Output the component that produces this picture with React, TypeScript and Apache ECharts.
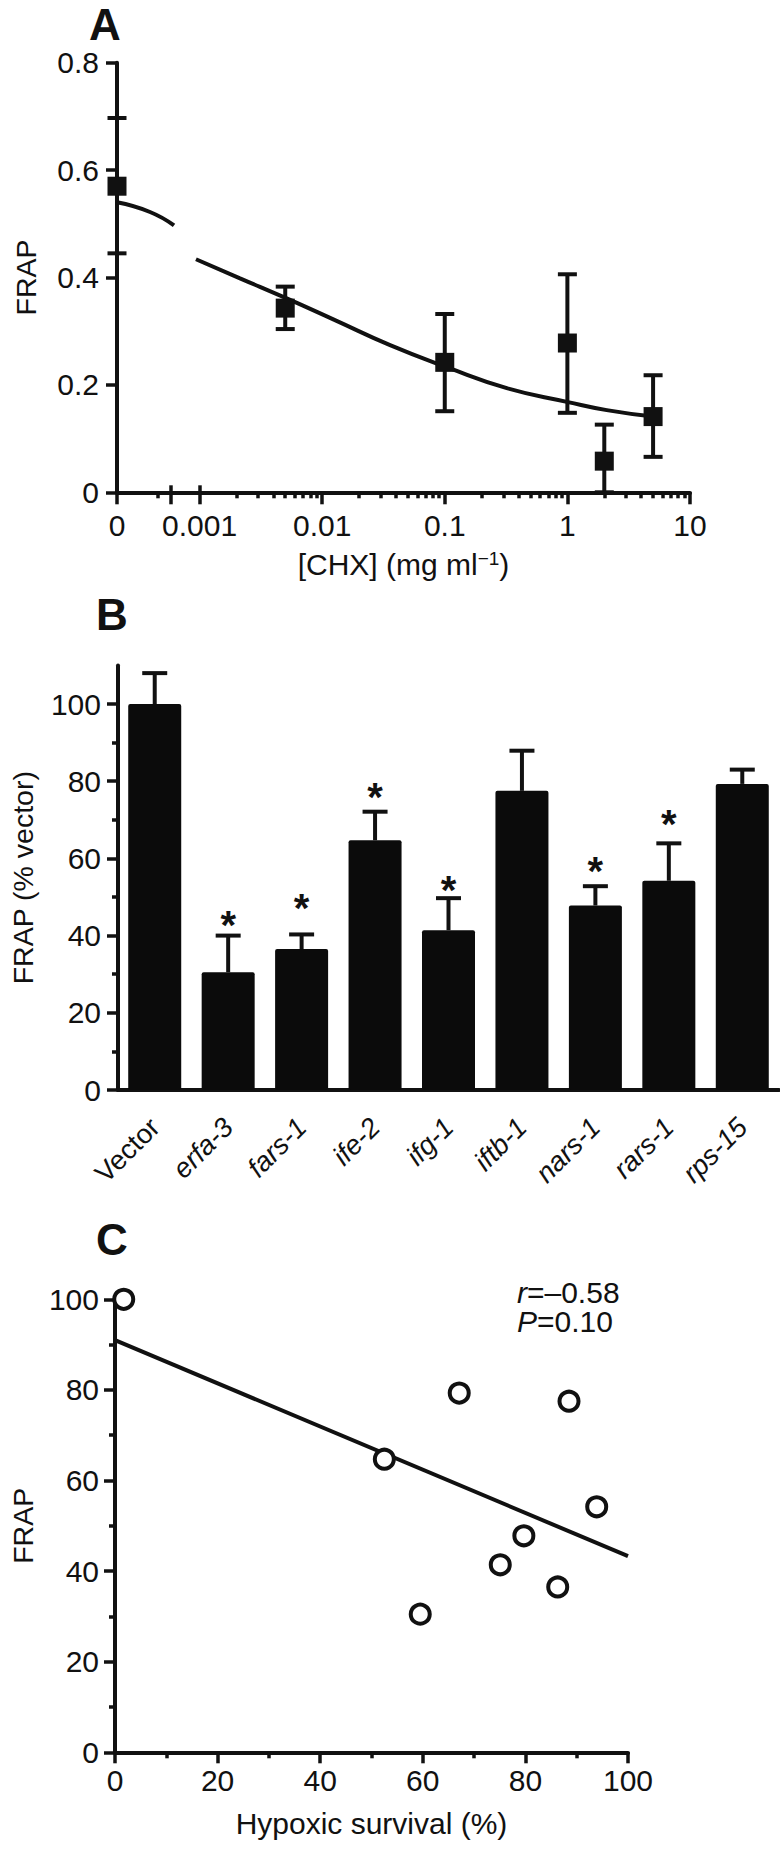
import React, { useEffect, useRef } from "react";
import * as echarts from "echarts";

const FONT = '"Liberation Sans", Arial, Helvetica, sans-serif';
const INK = "#111";
const FS = 30;
const FS_V = 28.5;
const FS_CAT = 27.5;

// ---------- Panel A : FRAP vs cycloheximide ----------
const chxConc = [0, 0.005, 0.1, 1, 2, 5]; // mg/ml
const frapMean = [0.57, 0.343, 0.242, 0.278, 0.058, 0.141];
const frapUpper = [0.697, 0.383, 0.332, 0.406, 0.126, 0.218];
const frapLower = [0.445, 0.304, 0.151, 0.148, 0.0, 0.066];
// x axis is drawn in decades (log10 of concentration); concentration 0 sits before an axis break
const ZERO_POS = -3.673;
const BREAK_POS = -3.232;
const PRE_MINOR_POS = -3.338;
const fitPreLogX = [ZERO_POS, -3.404, -3.208];
const fitPreY = [0.54, 0.522, 0.497];
const fitPostLogX = [-3.029, -2.67, -2.289, -1.909, -1.446, -0.984, -0.494, 0.005, 0.321, 0.699];
const fitPostY = [0.434, 0.3985, 0.361, 0.322, 0.274, 0.233, 0.194, 0.168, 0.153, 0.141];
const chxTickPos = [ZERO_POS, -3, -2, -1, 0, 1];
const chxTickLabels = ["0", "0.001", "0.01", "0.1", "1", "10"];
const chxDecades = [-3, -2, -1, 0];
const chxMinorMultipliers = [2, 3, 4, 5, 6, 7, 8, 9];
const frapTicksA = [0, 0.2, 0.4, 0.6, 0.8];

// ---------- Panel B : FRAP (% vector) per RNAi ----------
const genes = ["Vector", "erfa-3", "fars-1", "ife-2", "ifg-1", "iftb-1", "nars-1", "rars-1", "rps-15"];
const frapPct = [100, 30.5, 36.5, 64.7, 41.4, 77.5, 47.8, 54.2, 79.3];
const frapPctSem = [8.0, 9.5, 3.8, 7.4, 8.3, 10.4, 5.0, 9.7, 3.7];
const starLevel = [null, 44.7, 49.1, 77.9, 54.0, null, 58.8, 71.1, null];
const pctMajorTicks = [0, 20, 40, 60, 80, 100];
const pctMinorTicks = [10, 30, 50, 70, 90];

// ---------- Panel C : FRAP vs hypoxic survival ----------
const survival = [1.7, 52.5, 59.5, 67.1, 75.1, 79.7, 86.3, 88.5, 93.9];
const frapC = [100, 64.7, 30.5, 79.3, 41.4, 47.8, 36.5, 77.5, 54.2];
const fitCX = [0, 100];
const fitCY = [91.0, 43.3];
const corrText = ["{i|r}=\u20130.58", "{i|P}=0.10"];

const toPos = (c: number) => (c === 0 ? ZERO_POS : Math.log10(c));

function buildOption() {
  const minorA: number[] = [PRE_MINOR_POS];
  chxDecades.forEach((d) => chxMinorMultipliers.forEach((k) => minorA.push(d + Math.log10(k))));

  const lineStyle = { color: INK, width: 4 };
  const tickStyle = { color: INK, width: 3.5 };
  const labelBase = { color: INK, fontSize: FS, fontFamily: FONT };
  const catBase = { color: INK, fontSize: FS_CAT, fontFamily: FONT };
  const vTitle = { color: INK, fontSize: FS_V, fontFamily: FONT };
  const hidden = { color: "rgba(0,0,0,0)", opacity: 1 };

  const errA = chxConc.map((c, i) => [toPos(c), frapLower[i], frapUpper[i]]);
  const ptsA = chxConc.map((c, i) => [toPos(c), frapMean[i]]);
  const errB = genes.map((_, i) => [i, frapPct[i], frapPct[i] + frapPctSem[i]]);
  const starsB: number[][] = [];
  starLevel.forEach((s, i) => {
    if (s !== null) starsB.push([i, s]);
  });

  const errRender = (half: number, both: boolean) => (params: any, api: any) => {
    const x = api.value(0);
    const lo = api.coord([x, api.value(1)]);
    const hi = api.coord([x, api.value(2)]);
    const st = { stroke: INK, lineWidth: 4 };
    const children: any[] = [
      { type: "line", shape: { x1: lo[0], y1: lo[1], x2: hi[0], y2: hi[1] }, style: st },
      { type: "line", shape: { x1: hi[0] - half, y1: hi[1], x2: hi[0] + half, y2: hi[1] }, style: st },
    ];
    if (both) {
      children.push({ type: "line", shape: { x1: lo[0] - half, y1: lo[1], x2: lo[0] + half, y2: lo[1] }, style: st });
    }
    return { type: "group", children };
  };

  return {
    animation: false,
    backgroundColor: "#fff",
    textStyle: { fontFamily: FONT, color: INK },
    grid: [
      { left: 117, top: 62.7, width: 573, height: 429.6 },
      { left: 116, top: 665.4, width: 663, height: 424.6 },
      { left: 108, top: 1299.3, width: 520, height: 453 },
    ],
    xAxis: [
      {
        gridIndex: 0,
        type: "value",
        position: "bottom",
        min: ZERO_POS,
        max: 1,
        axisLine: { onZero: false, lineStyle },
        axisTick: { customValues: [...chxTickPos, BREAK_POS], length: 12, lineStyle: tickStyle },
        axisLabel: {
          ...labelBase,
          margin: 18,
          customValues: chxTickPos,
          formatter: (v: number) => {
            const i = chxTickPos.findIndex((p) => Math.abs(p - v) < 1e-6);
            return i >= 0 ? chxTickLabels[i] : "";
          },
        },
        splitLine: { show: false },
        name: "[CHX] (mg ml{sup|\u22121})",
        nameLocation: "middle",
        nameGap: 57,
        nameTextStyle: {
          ...labelBase,
          rich: { sup: { color: INK, fontSize: 19, fontFamily: FONT, verticalAlign: "bottom", padding: [0, 0, 12, 0] } },
        },
      },
      {
        gridIndex: 0,
        type: "value",
        position: "bottom",
        min: ZERO_POS,
        max: 1,
        axisLine: { show: false, onZero: false },
        axisTick: { customValues: minorA, length: 6, lineStyle: tickStyle },
        axisLabel: { show: false },
        splitLine: { show: false },
      },
      {
        gridIndex: 0,
        type: "value",
        position: "bottom",
        min: ZERO_POS,
        max: 1,
        axisLine: { show: false, onZero: false },
        axisTick: { inside: true, customValues: [BREAK_POS, -3], length: 7, lineStyle: tickStyle },
        axisLabel: { show: false },
        splitLine: { show: false },
      },
      {
        gridIndex: 1,
        type: "category",
        position: "bottom",
        data: genes,
        axisLine: { onZero: false, lineStyle },
        axisTick: { alignWithLabel: true, length: 10, lineStyle: tickStyle },
        axisLabel: { show: false },
        splitLine: { show: false },
      },
      {
        gridIndex: 2,
        type: "value",
        position: "bottom",
        min: 0,
        max: 100,
        interval: 20,
        axisLine: { onZero: false, lineStyle },
        axisTick: { length: 11, lineStyle: tickStyle },
        minorTick: { show: true, splitNumber: 2, length: 6, lineStyle: tickStyle },
        axisLabel: { ...labelBase, margin: 13 },
        splitLine: { show: false },
        minorSplitLine: { show: false },
        name: "Hypoxic survival (%)",
        nameLocation: "middle",
        nameGap: 56,
        nameTextStyle: { ...labelBase },
      },
    ],
    yAxis: [
      {
        gridIndex: 0,
        type: "value",
        position: "left",
        min: 0,
        max: 0.8,
        interval: 0.2,
        axisLine: { show: true, onZero: false, lineStyle },
        axisTick: { show: true, customValues: frapTicksA, length: 11, lineStyle: tickStyle },
        axisLabel: {
          ...labelBase,
          margin: 18,
          customValues: frapTicksA,
          formatter: (v: number) => (v === 0 ? "0" : v.toFixed(1)),
        },
        splitLine: { show: false },
        name: "FRAP",
        nameLocation: "middle",
        nameRotate: 90,
        nameGap: 77,
        nameTextStyle: vTitle,
      },
      {
        gridIndex: 1,
        type: "value",
        position: "left",
        min: 0,
        max: 110,
        interval: 10,
        axisLine: { show: true, onZero: false, lineStyle },
        axisTick: { show: true, customValues: pctMajorTicks, length: 11, lineStyle: tickStyle },
        axisLabel: { ...labelBase, margin: 17, customValues: pctMajorTicks },
        splitLine: { show: false },
        name: "FRAP (% vector)",
        nameLocation: "middle",
        nameRotate: 90,
        nameGap: 81,
        nameTextStyle: vTitle,
      },
      {
        gridIndex: 1,
        type: "value",
        position: "left",
        min: 0,
        max: 110,
        interval: 10,
        axisLine: { show: false, onZero: false },
        axisTick: { show: true, customValues: pctMinorTicks, length: 6, lineStyle: tickStyle },
        axisLabel: { show: false },
        splitLine: { show: false },
      },
      {
        gridIndex: 2,
        type: "value",
        position: "left",
        min: 0,
        max: 100,
        interval: 20,
        axisLine: { show: true, onZero: false, lineStyle },
        axisTick: { show: true, length: 11, lineStyle: tickStyle },
        minorTick: { show: true, splitNumber: 2, length: 6, lineStyle: tickStyle },
        axisLabel: { ...labelBase, margin: 16 },
        splitLine: { show: false },
        minorSplitLine: { show: false },
        name: "FRAP",
        nameLocation: "middle",
        nameRotate: 90,
        nameGap: 78,
        nameTextStyle: vTitle,
      },
    ],
    series: [
      // Panel A
      {
        type: "custom",
        xAxisIndex: 0,
        yAxisIndex: 0,
        data: errA,
        renderItem: errRender(9.5, true),
        z: 2,
        clip: false,
      },
      {
        type: "line",
        xAxisIndex: 0,
        yAxisIndex: 0,
        data: fitPreLogX.map((x, i) => [x, fitPreY[i]]),
        smooth: true,
        showSymbol: false,
        symbol: "none",
        lineStyle: { color: INK, width: 4 },
        z: 3,
      },
      {
        type: "line",
        xAxisIndex: 0,
        yAxisIndex: 0,
        data: fitPostLogX.map((x, i) => [x, fitPostY[i]]),
        smooth: true,
        showSymbol: false,
        symbol: "none",
        lineStyle: { color: INK, width: 4 },
        z: 3,
      },
      {
        type: "scatter",
        xAxisIndex: 0,
        yAxisIndex: 0,
        data: ptsA,
        symbol: "rect",
        symbolSize: 19,
        itemStyle: { color: INK, opacity: 1 },
        clip: false,
        z: 4,
      },
      // Panel B
      {
        type: "bar",
        xAxisIndex: 3,
        yAxisIndex: 1,
        data: frapPct,
        barWidth: 53,
        itemStyle: { color: "#0b0b0b", borderRadius: 2 },
        z: 2,
      },
      {
        type: "custom",
        xAxisIndex: 3,
        yAxisIndex: 1,
        data: errB,
        renderItem: errRender(12.5, false),
        z: 3,
        clip: false,
      },
      {
        type: "scatter",
        xAxisIndex: 3,
        yAxisIndex: 1,
        data: starsB,
        symbolSize: 1,
        itemStyle: hidden,
        label: {
          show: true,
          position: "inside",
          formatter: "*",
          color: INK,
          fontSize: 40,
          fontWeight: "bold",
          fontFamily: FONT,
          offset: [0, 8],
        },
        z: 4,
      },
      // Panel B category labels (rotated, gene names italic)
      {
        type: "scatter",
        xAxisIndex: 3,
        yAxisIndex: 1,
        data: genes.map((_, i) => [i, 0]),
        symbolSize: 1,
        itemStyle: hidden,
        clip: false,
        silent: true,
        label: {
          show: true,
          position: "bottom",
          distance: 32,
          rotate: 45,
          align: "right",
          verticalAlign: "middle",
          color: INK,
          formatter: (p: any) => (p.dataIndex === 0 ? `{n|${genes[0]}}` : `{i|${genes[p.dataIndex]}}`),
          rich: {
            n: { ...catBase },
            i: { ...catBase, fontStyle: "italic" },
          },
        },
        z: 4,
      },
      // Panel C
      {
        type: "line",
        xAxisIndex: 4,
        yAxisIndex: 3,
        data: fitCX.map((x, i) => [x, fitCY[i]]),
        showSymbol: false,
        symbol: "none",
        lineStyle: { color: INK, width: 4 },
        z: 2,
      },
      {
        type: "scatter",
        xAxisIndex: 4,
        yAxisIndex: 3,
        data: survival.map((x, i) => [x, frapC[i]]),
        symbol: "circle",
        symbolSize: 19,
        itemStyle: { color: "#fff", borderColor: INK, borderWidth: 4, opacity: 1 },
        clip: false,
        z: 3,
      },
    ],
    graphic: [
      { type: "text", x: 89, y: 24, style: { text: "A", fontSize: 44, fontWeight: "bold", fontFamily: FONT, fill: INK, verticalAlign: "middle" } },
      { type: "text", x: 96, y: 614, style: { text: "B", fontSize: 44, fontWeight: "bold", fontFamily: FONT, fill: INK, verticalAlign: "middle" } },
      { type: "text", x: 96, y: 1239, style: { text: "C", fontSize: 44, fontWeight: "bold", fontFamily: FONT, fill: INK, verticalAlign: "middle" } },
      ...corrText.map((t, i) => ({
        type: "text",
        x: 517,
        y: 1292.5 + i * 28.5,
        style: {
          text: t,
          fontSize: FS,
          fontFamily: FONT,
          fill: INK,
          verticalAlign: "middle",
          rich: { i: { fontStyle: "italic", fontSize: FS, fontFamily: FONT, fill: INK } },
        },
      })),
    ],
  };
}

export default function App() {
  const ref = useRef<HTMLDivElement>(null);
  useEffect(() => {
    document.body.style.margin = "0";
    if (!ref.current) return;
    const chart = echarts.init(ref.current, null, { renderer: "svg" });
    chart.setOption(buildOption() as any);
    return () => chart.dispose();
  }, []);
  return <div ref={ref} style={{ width: 780, height: 1849, background: "#fff" }} />;
}
